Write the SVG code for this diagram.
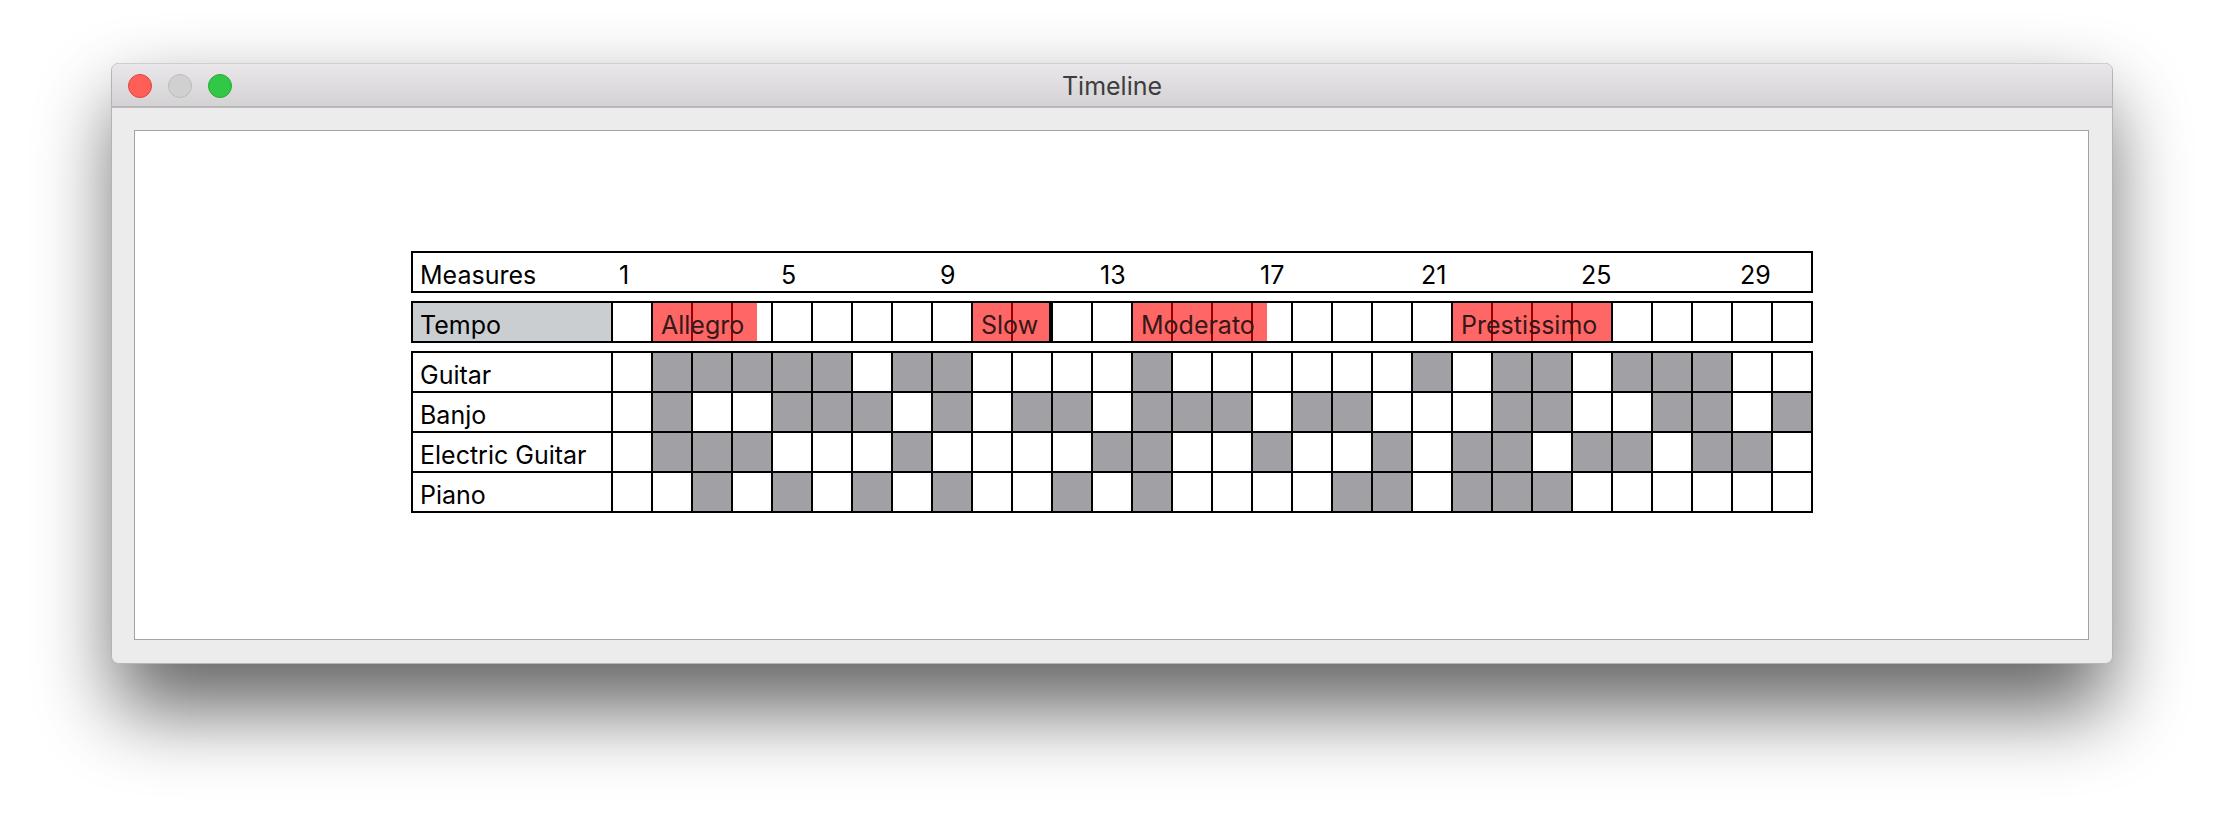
<svg xmlns="http://www.w3.org/2000/svg" width="2224" height="824" viewBox="0 0 2224 824">
<style>
.t{font-family:Inter,"Liberation Sans",sans-serif;font-size:25px;fill:#000}
.tr{font-family:Inter,"Liberation Sans",sans-serif;font-size:25px;fill:#361818}
.on{fill:#a1a0a5}
.grid{fill:none;stroke:#000;stroke-width:2}
.ov{fill:#ff0000;fill-opacity:0.6}
</style>
<defs>
<filter id="blur" x="-10%" y="-30%" width="120%" height="180%"><feGaussianBlur stdDeviation="40"/></filter>
<linearGradient id="tb" x1="0" y1="0" x2="0" y2="1"><stop offset="0" stop-color="#e9e7e9"/><stop offset="1" stop-color="#d3d1d3"/></linearGradient>
</defs>
<rect width="2224" height="824" fill="#fff"/>
<g id="window">
<rect x="116" y="100" width="1992" height="610" rx="10" fill="#000" opacity="0.6" filter="url(#blur)"/>
<rect x="111.5" y="63.5" width="2001" height="600" rx="7" fill="#ececec" stroke="#b4b4b4" stroke-width="1"/>
<path d="M112 107V70.5A7 7 0 0 1 119 63.5H2105A7 7 0 0 1 2112 70.5V107Z" fill="url(#tb)"/>
<line x1="112" y1="107" x2="2112" y2="107" stroke="#adadad" stroke-width="1.5"/>
<circle cx="140" cy="86" r="11.5" fill="#ff5f57" stroke="#e0443e" stroke-width="1"/>
<circle cx="180" cy="86" r="11.5" fill="#d0d0d0" stroke="#bcbcbc" stroke-width="1"/>
<circle cx="220" cy="86" r="11.5" fill="#33c748" stroke="#27aa35" stroke-width="1"/>
<text x="1112" y="95" text-anchor="middle" style="font-family:Inter,'Liberation Sans',sans-serif;font-size:25px;fill:#3d3d3d">Timeline</text>
<rect x="134.5" y="130.5" width="1954" height="509" fill="#fff" stroke="#a3a3a3" stroke-width="1"/>
</g>
<g id="measures">
<rect x="412" y="252" width="1400" height="40" class="grid"/>
<text class="t" x="420" y="284">Measures</text>
<text class="t" x="619" y="284">1</text>
<text class="t" x="781" y="284">5</text>
<text class="t" x="940" y="284">9</text>
<text class="t" x="1100" y="284">13</text>
<text class="t" x="1260" y="284">17</text>
<text class="t" x="1421" y="284">21</text>
<text class="t" x="1581" y="284">25</text>
<text class="t" x="1740" y="284">29</text>
</g>
<g id="tempo">
<rect x="412" y="302" width="1400" height="40" fill="#fff"/>
<rect x="412" y="302" width="200" height="40" fill="#cbced1"/>
<path class="grid" d="M412 302H1812V342H412Z M612 302V342 M652 302V342 M692 302V342 M732 302V342 M772 302V342 M812 302V342 M852 302V342 M892 302V342 M932 302V342 M972 302V342 M1012 302V342 M1052 302V342 M1092 302V342 M1132 302V342 M1172 302V342 M1212 302V342 M1252 302V342 M1292 302V342 M1332 302V342 M1372 302V342 M1412 302V342 M1452 302V342 M1492 302V342 M1532 302V342 M1572 302V342 M1612 302V342 M1652 302V342 M1692 302V342 M1732 302V342 M1772 302V342"/>
<text class="t" x="420" y="334">Tempo</text>
</g>
<g id="tempo-allegro">
<rect class="ov" x="653" y="303" width="104" height="38"/>
<text class="tr" x="661" y="334">Allegro</text>
</g>
<g id="tempo-slow">
<rect class="ov" x="973" y="303" width="77" height="38"/>
<rect x="1049" y="303" width="2" height="38" fill="#000"/>
<text class="tr" x="981" y="334">Slow</text>
</g>
<g id="tempo-moderato">
<rect class="ov" x="1133" y="303" width="134" height="38"/>
<text class="tr" x="1141" y="334">Moderato</text>
</g>
<g id="tempo-prestissimo">
<rect class="ov" x="1453" y="303" width="158" height="38"/>
<text class="tr" x="1461" y="334">Prestissimo</text>
</g>
<g id="instruments-bg">
<rect x="412" y="352" width="1400" height="160" fill="#fff"/>
</g>
<g id="guitar">
<rect class="on" x="652" y="352" width="200" height="40"/>
<rect class="on" x="892" y="352" width="80" height="40"/>
<rect class="on" x="1132" y="352" width="40" height="40"/>
<rect class="on" x="1412" y="352" width="40" height="40"/>
<rect class="on" x="1492" y="352" width="80" height="40"/>
<rect class="on" x="1612" y="352" width="120" height="40"/>
<text class="t" x="420" y="384">Guitar</text>
</g>
<g id="banjo">
<rect class="on" x="652" y="392" width="40" height="40"/>
<rect class="on" x="772" y="392" width="120" height="40"/>
<rect class="on" x="932" y="392" width="40" height="40"/>
<rect class="on" x="1012" y="392" width="80" height="40"/>
<rect class="on" x="1132" y="392" width="120" height="40"/>
<rect class="on" x="1292" y="392" width="80" height="40"/>
<rect class="on" x="1492" y="392" width="80" height="40"/>
<rect class="on" x="1652" y="392" width="80" height="40"/>
<rect class="on" x="1772" y="392" width="40" height="40"/>
<text class="t" x="420" y="424">Banjo</text>
</g>
<g id="electric-guitar">
<rect class="on" x="652" y="432" width="120" height="40"/>
<rect class="on" x="892" y="432" width="40" height="40"/>
<rect class="on" x="1092" y="432" width="80" height="40"/>
<rect class="on" x="1252" y="432" width="40" height="40"/>
<rect class="on" x="1372" y="432" width="40" height="40"/>
<rect class="on" x="1452" y="432" width="80" height="40"/>
<rect class="on" x="1572" y="432" width="80" height="40"/>
<rect class="on" x="1692" y="432" width="80" height="40"/>
<text class="t" x="420" y="464">Electric Guitar</text>
</g>
<g id="piano">
<rect class="on" x="692" y="472" width="40" height="40"/>
<rect class="on" x="772" y="472" width="40" height="40"/>
<rect class="on" x="852" y="472" width="40" height="40"/>
<rect class="on" x="932" y="472" width="40" height="40"/>
<rect class="on" x="1052" y="472" width="40" height="40"/>
<rect class="on" x="1132" y="472" width="40" height="40"/>
<rect class="on" x="1332" y="472" width="80" height="40"/>
<rect class="on" x="1452" y="472" width="120" height="40"/>
<text class="t" x="420" y="504">Piano</text>
</g>
<g id="instrument-grid">
<path class="grid" d="M412 352H1812V512H412Z M412 392H1812 M412 432H1812 M412 472H1812 M612 352V512 M652 352V512 M692 352V512 M732 352V512 M772 352V512 M812 352V512 M852 352V512 M892 352V512 M932 352V512 M972 352V512 M1012 352V512 M1052 352V512 M1092 352V512 M1132 352V512 M1172 352V512 M1212 352V512 M1252 352V512 M1292 352V512 M1332 352V512 M1372 352V512 M1412 352V512 M1452 352V512 M1492 352V512 M1532 352V512 M1572 352V512 M1612 352V512 M1652 352V512 M1692 352V512 M1732 352V512 M1772 352V512"/>
</g>
</svg>
